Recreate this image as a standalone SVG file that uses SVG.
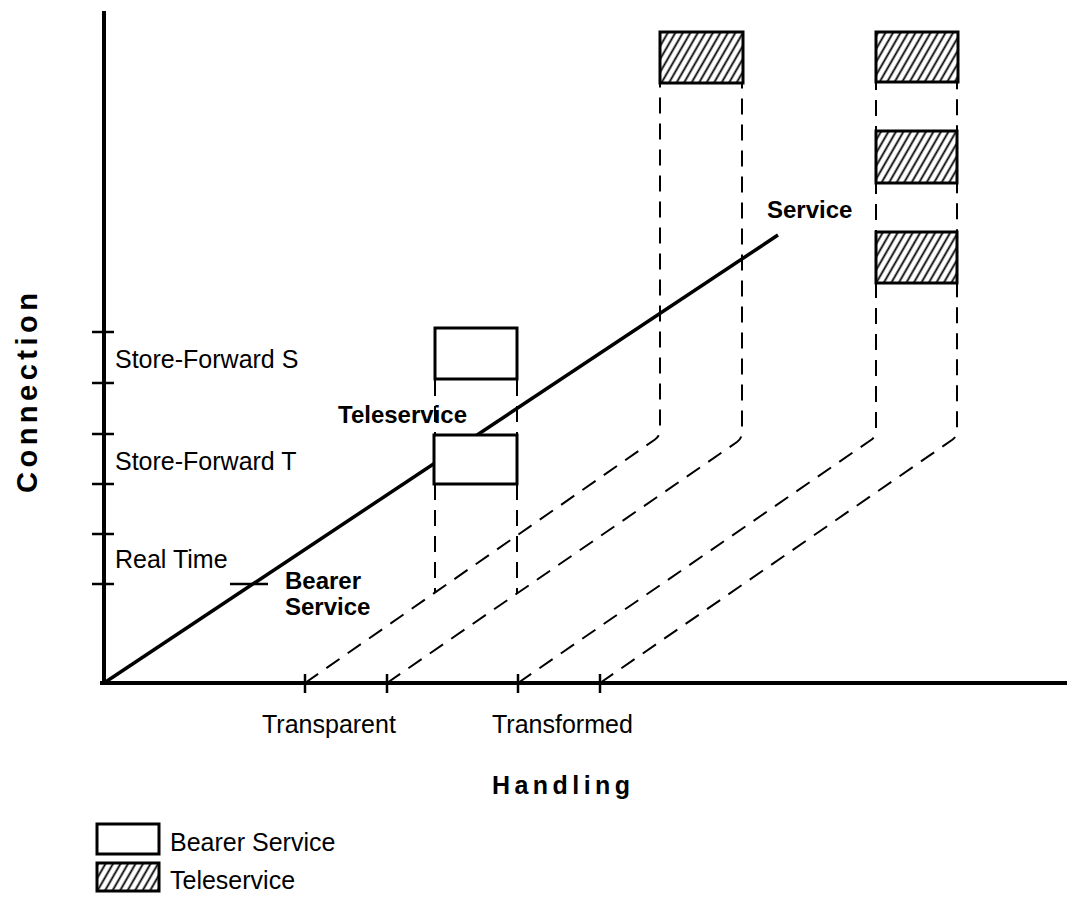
<svg xmlns="http://www.w3.org/2000/svg" width="1067" height="897" viewBox="0 0 1067 897">
  <defs>
    <pattern id="hatch" patternUnits="userSpaceOnUse" width="6.5" height="8" patternTransform="rotate(30)">
      <rect width="6.5" height="8" fill="#fff"/>
      <line x1="3.25" y1="-1" x2="3.25" y2="9" stroke="#000" stroke-width="1.8"/>
    </pattern>
    <style>
      .axis { stroke:#000; stroke-width:4; fill:none; }
      .tick { stroke:#000; stroke-width:2.5; fill:none; }
      .svc { stroke:#000; stroke-width:3.5; fill:none; }
      .dash { stroke:#000; stroke-width:2; fill:none; stroke-dasharray:16 10; }
      .bearer { fill:#fff; stroke:#000; stroke-width:3; }
      .tele { fill:url(#hatch); stroke:#000; stroke-width:3; }
      .lbl { font-family:"Liberation Sans", Arial, sans-serif; font-size:25px; fill:#000; }
      .bold { font-family:"Liberation Sans", Arial, sans-serif; font-size:24px; font-weight:bold; fill:#000; }
    </style>
  </defs>
  <rect width="1067" height="897" fill="#fff"/>

  <!-- axes and ticks -->
  <g id="axes">
    <line class="axis" x1="104" y1="11" x2="104" y2="685"/>
    <line class="axis" x1="100" y1="683" x2="1067" y2="683"/>
    <line class="tick" x1="92" y1="332" x2="114" y2="332"/>
    <line class="tick" x1="92" y1="383" x2="114" y2="383"/>
    <line class="tick" x1="92" y1="434" x2="114" y2="434"/>
    <line class="tick" x1="92" y1="484" x2="114" y2="484"/>
    <line class="tick" x1="92" y1="534" x2="114" y2="534"/>
    <line class="tick" x1="92" y1="584" x2="114" y2="584"/>
    <line class="tick" x1="305" y1="674" x2="305" y2="693"/>
    <line class="tick" x1="387" y1="674" x2="387" y2="693"/>
    <line class="tick" x1="518" y1="674" x2="518" y2="693"/>
    <line class="tick" x1="600" y1="674" x2="600" y2="693"/>
  </g>

  <!-- projection lines and service line -->
  <g id="connectors">
    <path class="dash" d="M305,683 L655,439.5 Q660,436 660,430 L660,83"/>
    <path class="dash" d="M387,683 L737,442 Q742,438.5 742,432 L742,83"/>
    <path class="dash" d="M518,683 L871,440 Q876,436.5 876,430 L876,83"/>
    <path class="dash" d="M600,683 L952,440 Q957,436.5 957,430 L957,83"/>
    <line class="dash" x1="435" y1="380" x2="435" y2="592"/>
    <line class="dash" x1="517" y1="380" x2="517" y2="594"/>
    <line class="svc" x1="104" y1="683" x2="778" y2="235"/>
    <line class="tick" x1="230" y1="584" x2="268" y2="584"/>
  </g>

  <!-- bearer service boxes -->
  <g id="bearer-s">
    <rect class="bearer" x="435" y="328" width="82" height="51"/>
  </g>
  <g id="bearer-t">
    <rect class="bearer" x="434" y="435" width="83" height="49"/>
  </g>

  <!-- teleservice boxes -->
  <g id="tele-1">
    <rect class="tele" x="660" y="32" width="83" height="51"/>
  </g>
  <g id="tele-2">
    <rect class="tele" x="876" y="32" width="82" height="50"/>
  </g>
  <g id="tele-3">
    <rect class="tele" x="876" y="131" width="81" height="52"/>
  </g>
  <g id="tele-4">
    <rect class="tele" x="876" y="232" width="81" height="51"/>
  </g>

  <!-- labels -->
  <g id="labels">
    <text class="lbl" x="115" y="368">Store-Forward S</text>
    <text class="lbl" x="115" y="470">Store-Forward T</text>
    <text class="lbl" x="115" y="568">Real Time</text>
    <text class="bold" x="285" y="589">Bearer</text>
    <text class="bold" x="285" y="615">Service</text>
    <text class="bold" x="338" y="423">Teleservice</text>
    <text class="bold" x="767" y="218">Service</text>
    <text class="lbl" x="262" y="733">Transparent</text>
    <text class="lbl" x="492" y="733">Transformed</text>
    <text class="bold" x="492" y="794" textLength="138" lengthAdjust="spacing" style="font-size:25px">Handling</text>
    <text class="bold" transform="translate(37,493) rotate(-90)" x="0" y="0" textLength="200" lengthAdjust="spacing" style="font-size:29px">Connection</text>
  </g>

  <!-- legend -->
  <g id="legend">
    <rect class="bearer" x="97" y="824" width="62" height="30"/>
    <text class="lbl" x="170" y="851">Bearer Service</text>
    <rect class="tele" x="97" y="863" width="62" height="28"/>
    <text class="lbl" x="170" y="889">Teleservice</text>
  </g>
</svg>
